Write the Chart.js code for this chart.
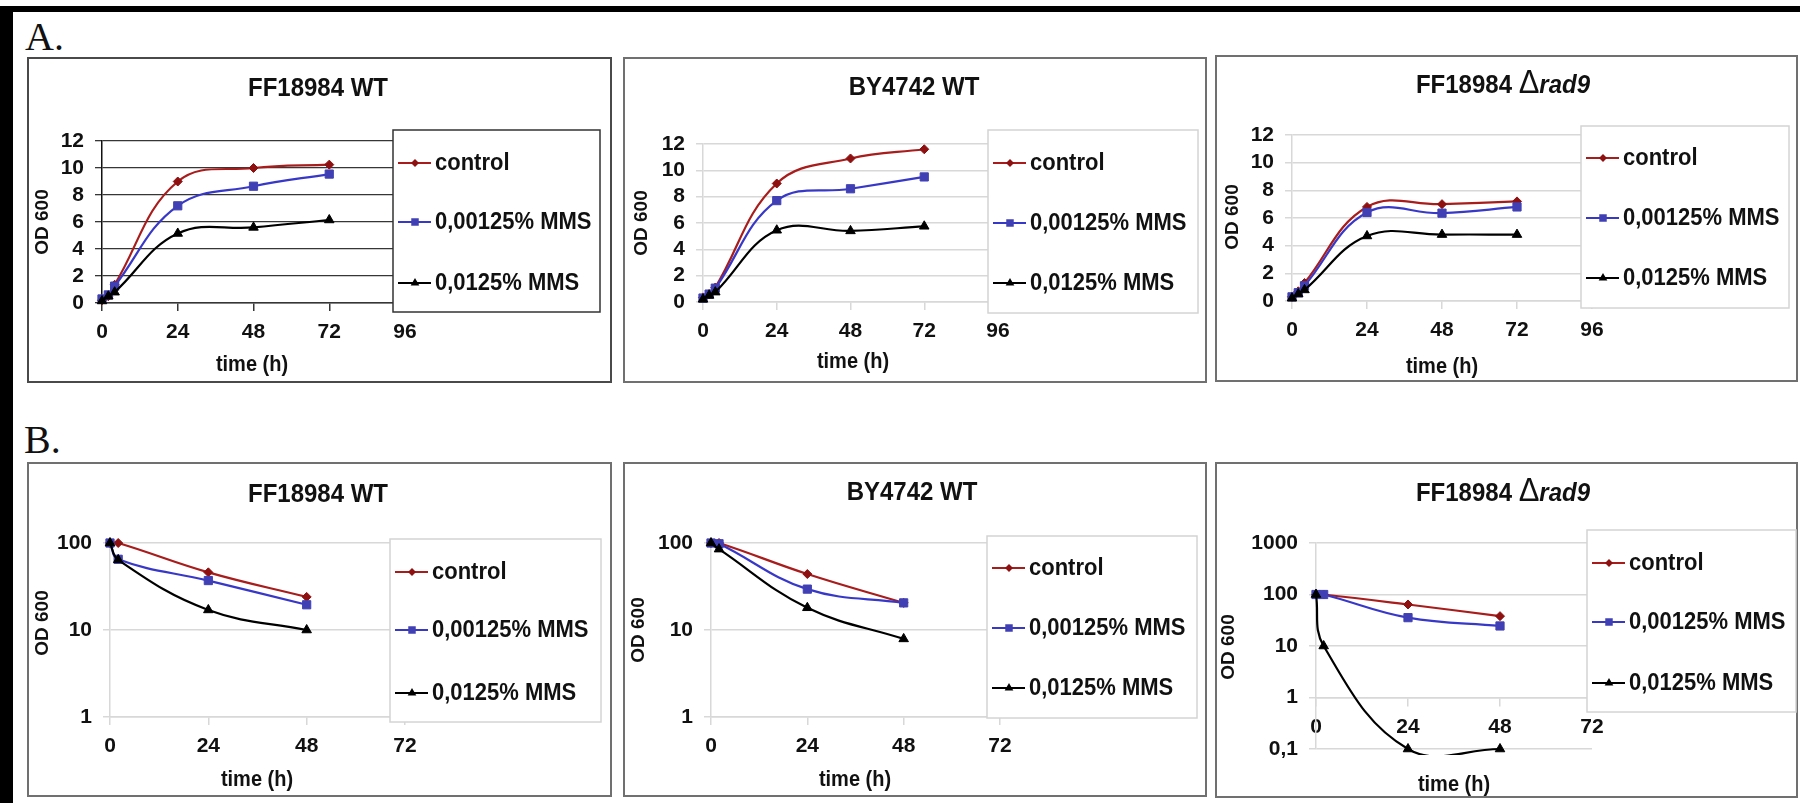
<!DOCTYPE html>
<html>
<head>
<meta charset="utf-8">
<script src="https://cdn.jsdelivr.net/npm/chart.js@4.4.1/dist/chart.umd.min.js"></script>
<style>
  html, body { margin: 0; padding: 0; background: #fff; }
  body { width: 1800px; height: 803px; position: relative; overflow: hidden; }
  .bar { position: absolute; background: #000; }
  .tag { position: absolute; font-family: "Liberation Serif", "Times New Roman", serif; font-size: 40px; line-height: 40px; color: #111; }
  canvas { position: absolute; }
</style>
</head>
<body>
<div class="bar" style="left:0;top:6px;width:1800px;height:6px"></div>
<div class="bar" style="left:0;top:6px;width:13px;height:797px"></div>
<div class="tag" style="left:25px;top:17px">A.</div>
<div class="tag" style="left:24px;top:420px">B.</div>
<script>
const seriesLabels = ['control', '0,00125% MMS', '0,0125% MMS'];

// A. growth curves, OD 600 vs time (h)
const growthHours = [0, 2, 4, 24, 48, 72];
const growthTicksX = [0, 24, 48, 72, 96];
const growthTicksY = [0, 2, 4, 6, 8, 10, 12];

const aWtControl = [0.2, 0.5, 1.35, 9.0, 10.0, 10.25];
const aWtLow     = [0.3, 0.6, 1.25, 7.2, 8.65, 9.55];
const aWtHigh    = [0.15, 0.5, 0.8, 5.15, 5.6, 6.15];

const aByControl = [0.35, 0.6, 1.1, 9.0, 10.9, 11.6];
const aByLow     = [0.3, 0.6, 1.05, 7.7, 8.6, 9.5];
const aByHigh    = [0.2, 0.5, 0.75, 5.45, 5.4, 5.75];

const aRadControl = [0.3, 0.7, 1.3, 6.8, 7.0, 7.2];
const aRadLow     = [0.3, 0.6, 1.1, 6.4, 6.35, 6.8];
const aRadHigh    = [0.2, 0.5, 0.8, 4.7, 4.8, 4.8];

// B. survival, log scale
const survivalHours = [0, 2, 24, 48];
const survivalTicksX = [0, 24, 48, 72];
const survivalTicksY = [1, 10, 100];
const survivalTicksYRad = [0.1, 1, 10, 100, 1000];

const bWtControl = [100, 100, 46, 24];
const bWtLow     = [100, 65, 37, 19.5];
const bWtHigh    = [100, 64, 17, 10];

const bByControl = [100, 100, 44, 20.5];
const bByLow     = [100, 98, 29.5, 20.5];
const bByHigh    = [100, 85, 18, 7.9];

const bRadControl = [100, 100, 64, 38];
const bRadLow     = [100, 100, 35.5, 24.5];
const bRadHigh    = [100, 10, 0.1, 0.1];

const lineColors = ['#a81c1c', '#3838c8', '#000000'];
const markColors = ['#8e1010', '#4040b4', '#000000'];
const markStyles = ['rectRot', 'rect', 'triangle'];
const markSizes = [4.5, 5.8, 5.5];

const SANS = '"Liberation Sans", Arial, sans-serif';
const STRETCH = 1.1; // the scanned figure is a little taller than wide
Chart.defaults.font.family = SANS;

const panels = [
  { box: [27, 57, 612, 383], plot: [102, 141, 405, 303], legend: [393, 130, 600, 312], rows: [163, 222, 283],
    title: [318, 86], xTitle: [252, 365], yTitle: [43, 222], dark: true, log: false,
    hours: growthHours, series: [aWtControl, aWtLow, aWtHigh], name: 'FF18984 WT' },
  { box: [623, 57, 1207, 383], plot: [703, 144, 998, 302], legend: [988, 130, 1198, 313], rows: [163, 223, 283],
    title: [914, 85], xTitle: [853, 362], yTitle: [642, 223], log: false,
    hours: growthHours, series: [aByControl, aByLow, aByHigh], name: 'BY4742 WT' },
  { box: [1215, 55, 1798, 382], plot: [1292, 135, 1592, 301], legend: [1581, 126, 1789, 308], rows: [158, 218, 278],
    title: [1503, 83], xTitle: [1442, 367], yTitle: [1233, 217], log: false, rad9: true,
    hours: growthHours, series: [aRadControl, aRadLow, aRadHigh], name: 'FF18984 ' },
  { box: [27, 462, 612, 797], plot: [110, 543, 405, 717], legend: [390, 539, 601, 722], rows: [572, 630, 693],
    title: [318, 492], xTitle: [257, 780], yTitle: [43, 623], log: true,
    hours: survivalHours, series: [bWtControl, bWtLow, bWtHigh], name: 'FF18984 WT' },
  { box: [623, 462, 1207, 797], plot: [711, 543, 1000, 717], legend: [987, 536, 1197, 718], rows: [568, 628, 688],
    title: [912, 490], xTitle: [855, 780], yTitle: [639, 630], log: true,
    hours: survivalHours, series: [bByControl, bByLow, bByHigh], name: 'BY4742 WT' },
  { box: [1215, 462, 1798, 798], plot: [1316, 543, 1592, 749], legend: [1587, 530, 1796, 712], rows: [563, 622, 683],
    title: [1503, 491], xTitle: [1454, 785], yTitle: [1229, 647], log: true, rad9: true, crossAt: 1,
    hours: survivalHours, series: [bRadControl, bRadLow, bRadHigh], name: 'FF18984 ' }
];

function drawMark(ctx, style, x, y, r, color) {
  ctx.fillStyle = color;
  ctx.beginPath();
  if (style === 'rectRot') {
    ctx.moveTo(x, y - r); ctx.lineTo(x + r, y); ctx.lineTo(x, y + r); ctx.lineTo(x - r, y);
  } else if (style === 'rect') {
    const s = r * Math.SQRT1_2;
    ctx.rect(x - s, y - s, 2 * s, 2 * s);
  } else {
    ctx.moveTo(x, y - r); ctx.lineTo(x + r * 0.866, y + r * 0.5); ctx.lineTo(x - r * 0.866, y + r * 0.5);
  }
  ctx.closePath();
  ctx.fill();
}

function fmt(v) {
  return String(v).replace('.', ',');
}

// text drawn slightly stretched in height, like the scanned original
function tallText(ctx, text, x, y) {
  ctx.save();
  ctx.translate(x, y);
  ctx.scale(1, STRETCH);
  ctx.fillText(text, 0, 0);
  ctx.restore();
}

function decor(p) {
  const ox = p.box[0], oy = p.box[1];
  return {
    id: 'decor',
    beforeDraw(chart) {
      const { ctx, width, height } = chart;
      ctx.save();
      ctx.fillStyle = '#fff';
      ctx.fillRect(0, 0, width, height);
      ctx.strokeStyle = p.dark ? '#4a4a4a' : '#707070';
      ctx.lineWidth = 2;
      ctx.strokeRect(1, 1, width - 2, height - 2);
      ctx.restore();
    },
    afterDraw(chart) {
      const ctx = chart.ctx;
      ctx.save();
      ctx.fillStyle = '#111';

      // chart title
      const parts = [[p.name, 'bold 24px ' + SANS]];
      if (p.rad9) {
        parts.push(['\u0394', '31px ' + SANS]);
        parts.push(['rad9', 'italic bold 24px ' + SANS]);
      }
      let total = 0;
      parts.forEach(pt => { ctx.font = pt[1]; total += ctx.measureText(pt[0]).width; });
      let tx = p.title[0] - ox - total / 2;
      const ty = p.title[1] - oy + 9.5;
      ctx.textBaseline = 'alphabetic';
      ctx.textAlign = 'left';
      parts.forEach(pt => { ctx.font = pt[1]; tallText(ctx, pt[0], tx, ty); tx += ctx.measureText(pt[0]).width; });

      // axis titles
      ctx.textAlign = 'center';
      ctx.textBaseline = 'middle';
      ctx.font = 'bold 20px ' + SANS;
      tallText(ctx, 'time (h)', p.xTitle[0] - ox, p.xTitle[1] - oy);
      ctx.save();
      ctx.translate(p.yTitle[0] - ox, p.yTitle[1] - oy);
      ctx.rotate(-Math.PI / 2);
      ctx.font = 'bold 19px ' + SANS;
      ctx.fillText('OD 600', 0, 0);
      ctx.restore();

      // legend
      const [l, t, r, b] = p.legend;
      ctx.fillStyle = '#fff';
      ctx.fillRect(l - ox, t - oy, r - l, b - t);
      ctx.strokeStyle = p.dark ? '#333' : '#d4d4d4';
      ctx.lineWidth = 1.5;
      ctx.strokeRect(l - ox, t - oy, r - l, b - t);
      ctx.textAlign = 'left';
      ctx.font = 'bold 22px ' + SANS;
      seriesLabels.forEach((lab, i) => {
        const y = p.rows[i] - oy;
        const x0 = l - ox + 5;
        ctx.strokeStyle = lineColors[i];
        ctx.lineWidth = 2.2;
        ctx.beginPath(); ctx.moveTo(x0, y); ctx.lineTo(x0 + 33, y); ctx.stroke();
        drawMark(ctx, markStyles[i], x0 + 17, y, markSizes[i] - 0.5, markColors[i]);
        ctx.fillStyle = '#111';
        tallText(ctx, lab, l - ox + 42, y);
      });
      ctx.restore();
    }
  };
}

function makeChart(p) {
  const [bl, bt, br, bb] = p.box;
  const w = br - bl, h = bb - bt;
  const cv = document.createElement('canvas');
  cv.width = w; cv.height = h;
  cv.style.left = bl + 'px'; cv.style.top = bt + 'px';
  cv.style.width = w + 'px'; cv.style.height = h + 'px';
  document.body.appendChild(cv);

  const L = p.plot[0] - bl, T = p.plot[1] - bt, R = p.plot[2] - bl, B = p.plot[3] - bt;
  const yW = L - 8, xH = 40;
  const gridColor = p.dark ? '#363636' : '#d8d8d8';
  const tickFont = { size: 21, weight: 'bold', family: SANS };

  const xTicks = p.log ? survivalTicksX : growthTicksX;
  const yTicks = p.log ? (p.crossAt ? survivalTicksYRad : survivalTicksY) : growthTicksY;

  const datasets = p.series.map((vals, i) => ({
    label: seriesLabels[i],
    data: p.hours.map((hr, k) => ({ x: hr, y: vals[k] })),
    borderColor: lineColors[i],
    backgroundColor: markColors[i],
    pointBackgroundColor: markColors[i],
    pointBorderColor: markColors[i],
    pointBorderWidth: 1,
    pointStyle: markStyles[i],
    pointRadius: markSizes[i],
    borderWidth: 2.2,
    tension: 0.4,
    capBezierPoints: false,
    clip: { left: 8, top: 8, right: 8, bottom: p.crossAt ? 6 : 8 },
    fill: false
  }));
  // control drawn last, on top
  datasets.reverse();

  const xScale = {
    type: 'linear',
    min: xTicks[0],
    max: xTicks[xTicks.length - 1],
    afterBuildTicks: s => { s.ticks = xTicks.map(v => ({ value: v })); },
    ticks: { autoSkip: false, maxRotation: 0, padding: 9, color: '#111', font: tickFont, callback: v => fmt(v) },
    grid: { drawOnChartArea: false, drawTicks: true, tickLength: 8, color: gridColor, lineWidth: 1.5 },
    border: { display: true, color: gridColor, width: 1.5 }
  };
  if (p.crossAt) {
    xScale.position = { y: p.crossAt };
  } else {
    xScale.position = 'bottom';
    xScale.afterFit = s => { s.height = xH; };
  }

  const yScale = {
    type: p.log ? 'logarithmic' : 'linear',
    position: 'left',
    min: yTicks[0],
    max: yTicks[yTicks.length - 1],
    afterBuildTicks: s => { s.ticks = yTicks.map(v => ({ value: v })); },
    afterFit: s => { s.width = yW; },
    ticks: { autoSkip: false, padding: 11, color: '#111', font: tickFont, callback: v => fmt(v) },
    grid: { color: gridColor, lineWidth: p.dark ? 1.3 : 1.5, tickLength: 7, drawTicks: true },
    border: { display: true, color: p.dark ? '#111' : gridColor, width: 1.5 }
  };

  new Chart(cv, {
    type: 'line',
    data: { datasets },
    options: {
      responsive: false,
      animation: false,
      devicePixelRatio: 1,
      layout: {
        padding: { left: L - yW, top: T, right: w - R, bottom: p.crossAt ? h - B : h - B - xH }
      },
      scales: { x: xScale, y: yScale },
      plugins: { legend: { display: false }, title: { display: false }, tooltip: { enabled: false } }
    },
    plugins: [decor(p)]
  });
}

panels.forEach(makeChart);
</script>
</body>
</html>
